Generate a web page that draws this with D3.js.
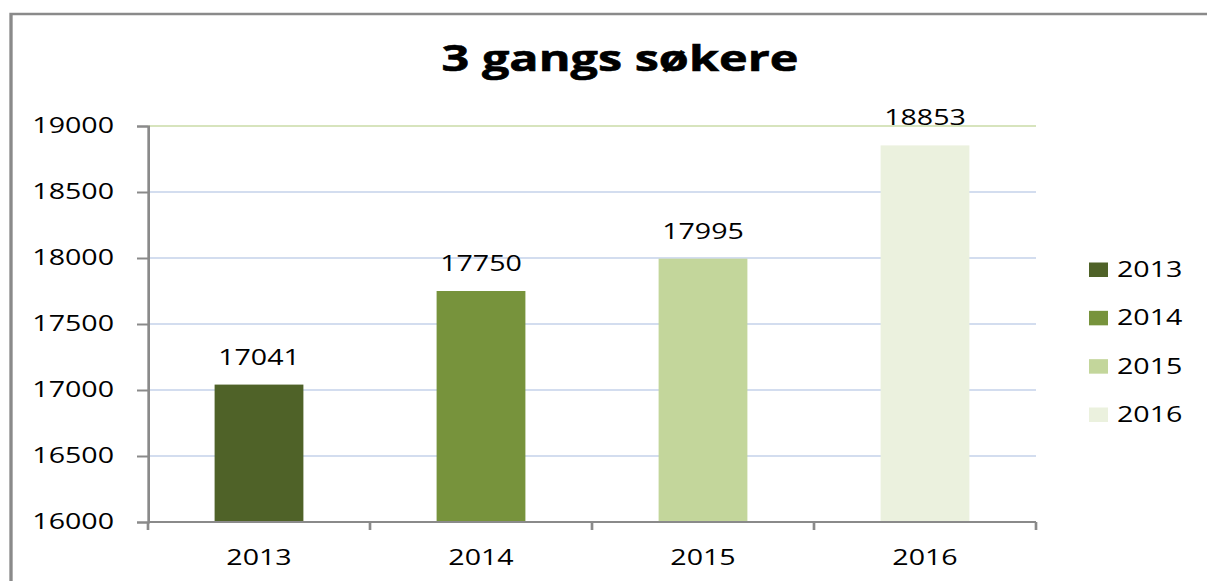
<!DOCTYPE html>
<html>
<head>
<meta charset="utf-8">
<script src="https://cdn.jsdelivr.net/npm/d3@7"></script>
<style>
  html, body { margin: 0; padding: 0; background: #fff; }
  svg { display: block; }
  text { font-family: "Open Sans", "DejaVu Sans", sans-serif; fill: #000; }
</style>
</head>
<body>
<div id="chart"></div>
<script>
// données
const years = ["2013", "2014", "2015", "2016"];
const values = [17041, 17750, 17995, 18853];
const colors = ["#4f6228", "#77933c", "#c3d69b", "#ebf1de"];
const yTicks = [16000, 16500, 17000, 17500, 18000, 18500, 19000];
const chartTitle = "3 gangs søkere";

// the original picture is stretched horizontally, so we draw in a
// narrower coordinate space and let the viewBox stretch it back
const SX = 1.33;
const W = 1207, H = 581;
const vbW = W / SX;

const svg = d3.select("#chart")
  .append("svg")
  .attr("width", W)
  .attr("height", H)
  .attr("viewBox", [0, 0, vbW, H])
  .attr("preserveAspectRatio", "none");

// cadre extérieur (coupé à droite et en bas)
svg.append("rect")
  .attr("x", 11 / SX)
  .attr("y", 14)
  .attr("width", vbW)
  .attr("height", H)
  .attr("fill", "none")
  .attr("stroke", "#8a8a8a")
  .attr("stroke-width", 2.5);

// titre
svg.append("text")
  .attr("x", 620 / SX)
  .attr("y", 71)
  .attr("text-anchor", "middle")
  .attr("font-size", 36.5)
  .attr("font-weight", "bold")
  .style("stroke", "#000")
  .style("stroke-width", 0.6)
  .text(chartTitle);

const plot = { left: 148 / SX, right: 1036 / SX, top: 126, bottom: 522 };

const x = d3.scaleBand()
  .domain(years)
  .range([plot.left, plot.right])
  .paddingInner(0.6)
  .paddingOuter(0.3);

const y = d3.scaleLinear()
  .domain([16000, 19000])
  .range([plot.bottom, plot.top]);

// grille
svg.append("g")
  .selectAll("line")
  .data(yTicks.filter(d => d > 16000))
  .join("line")
  .attr("x1", plot.left)
  .attr("x2", plot.right)
  .attr("y1", d => y(d))
  .attr("y2", d => y(d))
  .attr("stroke", d => d === 19000 ? "#d7e4bd" : "#d3ddef")
  .attr("stroke-width", 2);

// barres
svg.append("g")
  .selectAll("rect")
  .data(values)
  .join("rect")
  .attr("x", (d, i) => x(years[i]))
  .attr("width", x.bandwidth())
  .attr("y", d => y(d))
  .attr("height", d => y(16000) - y(d))
  .attr("fill", (d, i) => colors[i]);

// étiquettes de valeurs
svg.append("g")
  .selectAll("text")
  .data(values)
  .join("text")
  .attr("x", (d, i) => x(years[i]) + x.bandwidth() / 2)
  .attr("y", d => y(d) - 20)
  .attr("text-anchor", "middle")
  .attr("font-size", 21.5)
  .text(d => d);

// axe Y
const yAxis = svg.append("g")
  .attr("transform", `translate(${plot.left},0)`)
  .call(d3.axisLeft(y).tickValues(yTicks).tickSize(11 / SX).tickPadding(23 / SX).tickFormat(d3.format("d")));
yAxis.select(".domain").attr("stroke", "#8a8a8a").attr("stroke-width", 2);
yAxis.selectAll(".tick line").attr("stroke", "#8a8a8a").attr("stroke-width", 2);
yAxis.selectAll(".tick text")
  .attr("font-size", 21.5)
  .attr("font-family", null)
  .attr("dy", "0.32em")
  .attr("fill", "#000");

// axe X
const xBounds = d3.range(years.length + 1).map(i => plot.left + i * x.step());
const xAxis = svg.append("g");
xAxis.append("line")
  .attr("x1", plot.left).attr("x2", plot.right)
  .attr("y1", plot.bottom).attr("y2", plot.bottom)
  .attr("stroke", "#8a8a8a").attr("stroke-width", 2);
xAxis.selectAll(".xtick")
  .data(xBounds)
  .join("line")
  .attr("class", "xtick")
  .attr("x1", d => d).attr("x2", d => d)
  .attr("y1", plot.bottom).attr("y2", plot.bottom + 8)
  .attr("stroke", "#8a8a8a").attr("stroke-width", 2);
xAxis.selectAll(".xlabel")
  .data(years)
  .join("text")
  .attr("class", "xlabel")
  .attr("x", d => x(d) + x.bandwidth() / 2)
  .attr("y", 565)
  .attr("text-anchor", "middle")
  .attr("font-size", 21.5)
  .text(d => d);

// légende
const legend = svg.append("g")
  .attr("transform", `translate(${1089 / SX},0)`);
const legRow = d3.scalePoint().domain(years).range([277, 422]);
legend.selectAll("rect")
  .data(years)
  .join("rect")
  .attr("x", 0)
  .attr("y", d => legRow(d) - 14.5)
  .attr("width", 19 / SX)
  .attr("height", 14.5)
  .attr("fill", (d, i) => colors[i]);
legend.selectAll("text")
  .data(years)
  .join("text")
  .attr("x", 28 / SX)
  .attr("y", d => legRow(d))
  .attr("font-size", 21.5)
  .text(d => d);
</script>
</body>
</html>
